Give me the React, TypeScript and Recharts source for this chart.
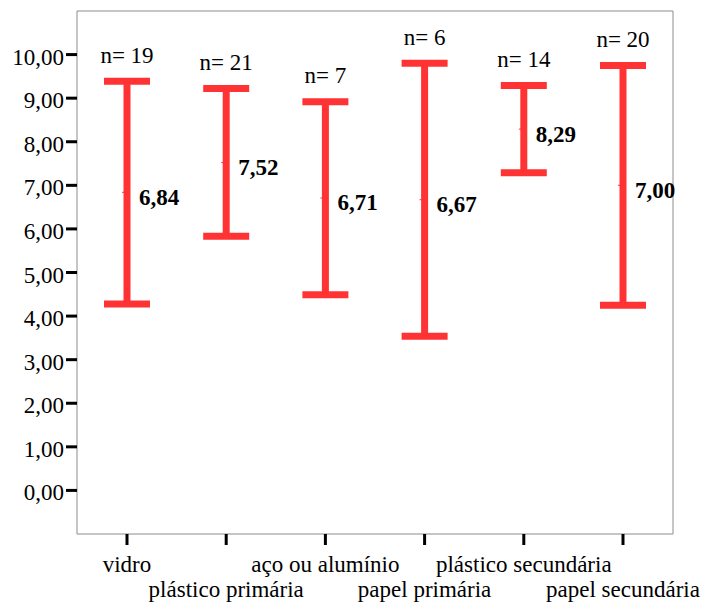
import {
  ComposedChart,
  Line,
  XAxis,
  YAxis,
  ErrorBar,
  LabelList,
} from "recharts";

const categories = [
  "vidro",
  "plástico primária",
  "aço ou alumínio",
  "papel primária",
  "plástico secundária",
  "papel secundária",
];
const means = [6.84, 7.52, 6.71, 6.67, 8.29, 7.0];
const lows = [4.28, 5.83, 4.49, 3.54, 7.29, 4.25];
const highs = [9.39, 9.22, 8.92, 9.8, 9.29, 9.75];
const counts = [19, 21, 7, 6, 14, 20];
const yTicks = [0, 1, 2, 3, 4, 5, 6, 7, 8, 9, 10];

const data = categories.map((cat, i) => ({
  cat,
  mean: means[i],
  high: highs[i],
  n: counts[i],
  err: [means[i] - lows[i], highs[i] - means[i]],
}));

const RED = "#ff3333";
const BORDER = "#8c8c8c";
const FONT = "'Liberation Serif', 'Times New Roman', serif";
const PAD = { left: 50, right: 50 };
const fmt = (v: number) => v.toFixed(2).replace(".", ",");

const YTick = (props: any) => {
  const { x, y, payload } = props;
  return (
    <text x={x} y={y + 10} textAnchor="end" fontFamily={FONT} fontSize={23} fill="#000">
      {fmt(payload.value)}
    </text>
  );
};

const XTick = (props: any) => {
  const { x, y, payload, index } = props;
  const dy = index % 2 === 0 ? 25 : 50;
  return (
    <text x={x} y={y + dy} textAnchor="middle" fontFamily={FONT} fontSize={23} fill="#000">
      {payload.value}
    </text>
  );
};

const MeanDot = (props: any) => {
  const { cx, cy } = props;
  if (cx == null || cy == null) return null;
  return <line x1={cx - 5} y1={cy} x2={cx + 2} y2={cy} stroke={RED} strokeWidth={1} />;
};

const MeanLabel = (props: any) => {
  const { x, y, value } = props;
  return (
    <text x={x + 12} y={y + 12.5} fontFamily={FONT} fontSize={23} fontWeight="bold" fill="#000">
      {fmt(value)}
    </text>
  );
};

const NLabel = (props: any) => {
  const { x, y, value } = props;
  return (
    <text x={x} y={y - 18.5} textAnchor="middle" fontFamily={FONT} fontSize={23} fill="#000">
      {`n= ${value}`}
    </text>
  );
};

export default function App() {
  return (
    <div style={{ position: "absolute", left: 0, top: 0, background: "#fff" }}>
      <ComposedChart
        width={702}
        height={605}
        data={data}
        margin={{ top: 10, right: 28, left: 0, bottom: 0 }}
      >
        <XAxis
          dataKey="cat"
          interval={0}
          height={71}
          padding={PAD}
          tickSize={11}
          tickMargin={2}
          tickLine={{ stroke: "#000", strokeWidth: 3 }}
          axisLine={{ stroke: BORDER }}
          tick={<XTick />}
        />
        <XAxis
          xAxisId="top"
          orientation="top"
          dataKey="cat"
          interval={0}
          height={1}
          padding={PAD}
          tick={false}
          tickLine={false}
          axisLine={{ stroke: BORDER }}
        />
        <YAxis
          type="number"
          domain={[-1, 11]}
          ticks={yTicks}
          width={77}
          tickSize={11}
          tickMargin={2}
          tickLine={{ stroke: "#000", strokeWidth: 3 }}
          axisLine={{ stroke: BORDER }}
          tick={<YTick />}
          allowDataOverflow
        />
        <YAxis
          yAxisId="right"
          orientation="right"
          type="number"
          domain={[-1, 11]}
          width={1}
          tick={false}
          tickLine={false}
          axisLine={{ stroke: BORDER }}
          allowDataOverflow
        />
        <Line
          dataKey="mean"
          stroke="none"
          dot={<MeanDot />}
          activeDot={false}
          isAnimationActive={false}
        >
          <ErrorBar dataKey="err" direction="y" width={23} strokeWidth={7} stroke={RED} />
          <LabelList dataKey="mean" content={<MeanLabel />} />
        </Line>
        <Line
          xAxisId="top"
          yAxisId="right"
          dataKey="high"
          stroke="none"
          dot={false}
          activeDot={false}
          isAnimationActive={false}
        >
          <LabelList dataKey="n" content={<NLabel />} />
        </Line>
      </ComposedChart>
    </div>
  );
}
